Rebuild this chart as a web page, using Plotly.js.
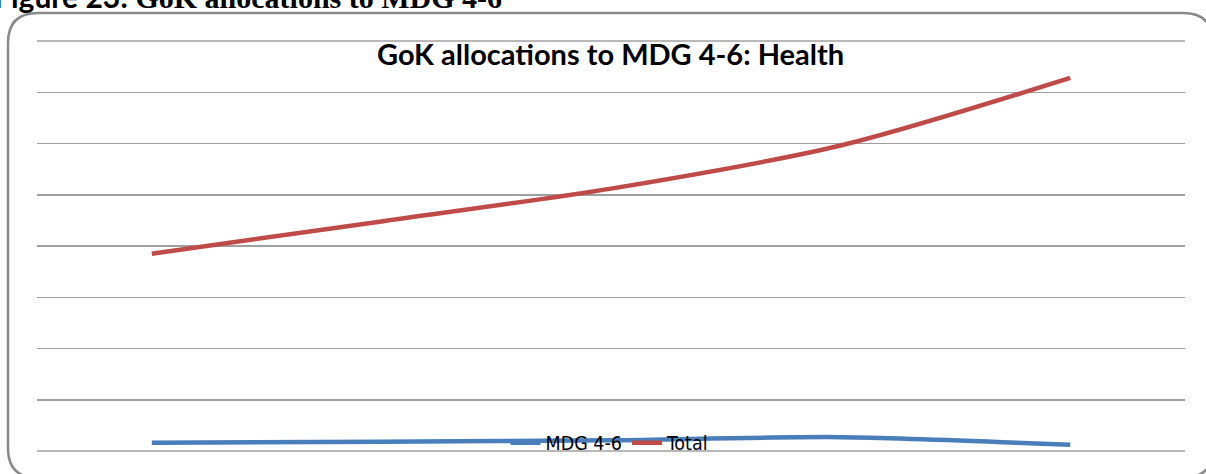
<!DOCTYPE html>
<html>
<head>
<meta charset="utf-8">
<script src="https://cdn.plot.ly/plotly-3.0.1.min.js"></script>
<style>
html,body{margin:0;padding:0;background:#fff;}
#chart{width:1206px;height:474px;}
</style>
</head>
<body>
<div id="chart"></div>
<script>
// Data (units unlabelled in the source)
var periods = [1, 2, 3, 4, 5];
var mdg46 = [16, 18, 21, 27, 12];
var total = [385, 448, 512, 596, 728];
var seriesNames = ["MDG 4-6", "Total"];
var chartTitle = "GoK allocations to MDG 4-6: Health";
var figureCaption = "Figure 23:";
var figureCaptionRest = " GoK allocations to MDG 4-6";

var W = 1206, H = 474;
var L = 37, R = 21, T = 41, B = 22;
var pw = W - L - R, ph = H - T - B;
function px(x){ return (x - L) / pw; }
function py(y){ return (H - B - y) / ph; }

// rounded frame in paper coordinates
var x0 = px(8), x1 = px(1213), y0 = py(13), y1 = py(479);
var rx = 30 / pw, ry = 30 / ph;
var framePath = 'M ' + (x0 + rx) + ',' + y0 +
  ' L ' + (x1 - rx) + ',' + y0 +
  ' Q ' + x1 + ',' + y0 + ' ' + x1 + ',' + (y0 - ry) +
  ' L ' + x1 + ',' + (y1 + ry) +
  ' Q ' + x1 + ',' + y1 + ' ' + (x1 - rx) + ',' + y1 +
  ' L ' + (x0 + rx) + ',' + y1 +
  ' Q ' + x0 + ',' + y1 + ' ' + x0 + ',' + (y1 + ry) +
  ' L ' + x0 + ',' + (y0 - ry) +
  ' Q ' + x0 + ',' + y0 + ' ' + (x0 + rx) + ',' + y0 + ' Z';

var traces = [
  {x: periods, y: mdg46, name: seriesNames[0], type: 'scatter', mode: 'lines',
   line: {color: '#4a7ebb', width: 4.5, shape: 'spline', smoothing: 0.8}},
  {x: periods, y: total, name: seriesNames[1], type: 'scatter', mode: 'lines',
   line: {color: '#be4b48', width: 4.5, shape: 'spline', smoothing: 0.8}}
];

var layout = {
  width: W, height: H,
  margin: {l: L, r: R, t: T, b: B, pad: 0},
  paper_bgcolor: '#ffffff', plot_bgcolor: '#ffffff',
  showlegend: true,
  legend: {orientation: 'h', x: px(610), xanchor: 'center', y: py(443), yanchor: 'middle',
    bgcolor: 'rgba(0,0,0,0)', font: {family: 'Liberation Sans Narrow, DejaVu Sans Condensed, sans-serif', size: 19.5, color: '#000'},
    itemwidth: 30, tracegroupgap: 0},
  xaxis: {range: [0.5, 5.5], showgrid: false, zeroline: false, showticklabels: false,
    ticks: '', showline: false, fixedrange: true},
  yaxis: {range: [0, 800], dtick: 100, showgrid: true, gridcolor: '#a0a0a0', gridwidth: 1.5,
    zeroline: false, showticklabels: false, ticks: '', showline: false, fixedrange: true},
  shapes: [
    {type: 'path', xref: 'paper', yref: 'paper', path: framePath,
     line: {color: '#8a8a8a', width: 2.5}, fillcolor: 'rgba(0,0,0,0)', layer: 'above'},
    {type: 'line', xref: 'paper', yref: 'paper', x0: 0, x1: 1, y0: 0, y1: 0,
     line: {color: '#a0a0a0', width: 1.5}, layer: 'below'},
    {type: 'line', xref: 'paper', yref: 'paper', x0: 0, x1: 1, y0: 1, y1: 1,
     line: {color: '#a0a0a0', width: 1.5}, layer: 'below'}
  ],
  annotations: [
    {text: '<b>' + chartTitle + '</b>', xref: 'paper', yref: 'paper',
     x: px(610), y: py(54), xanchor: 'center', yanchor: 'middle', showarrow: false,
     font: {family: 'Lato, Open Sans, sans-serif', size: 29, color: '#000'}},
    {text: '<b>' + figureCaption + '<span style="font-family:Liberation Serif">' + figureCaptionRest + '</span></b>',
     xref: 'paper', yref: 'paper', x: px(-8), y: py(16), xanchor: 'left', yanchor: 'bottom',
     showarrow: false, font: {family: 'Lato, sans-serif', size: 30, color: '#000'}}
  ]
};

Plotly.newPlot('chart', traces, layout, {displayModeBar: false, staticPlot: true});
</script>
</body>
</html>
